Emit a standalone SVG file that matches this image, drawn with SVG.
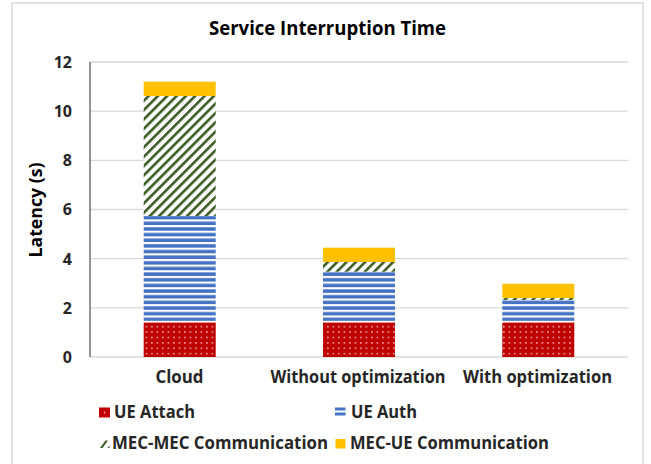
<svg xmlns="http://www.w3.org/2000/svg" width="651" height="464" viewBox="0 0 651 464">
<style>
text{font-family:"Open Sans","Noto Sans","DejaVu Sans",sans-serif;font-weight:700;fill:#000}
.ax{font-size:16px;text-anchor:end;fill:#262626}
.cat{font-size:17.5px;text-anchor:middle;fill:#262626}
.leg{font-size:17.5px;fill:#262626}
.grid{stroke:#d9d9d9;stroke-width:1.3}
</style>
<defs>
<pattern id="pRed" patternUnits="userSpaceOnUse" x="143.7" y="0" width="5.5" height="5.4">
<rect width="5.5" height="5.4" fill="#c00000"/>
<rect x="2" y="2" width="1.4" height="1.4" fill="#f4d6d6"/>
</pattern>
<pattern id="pBlue" patternUnits="userSpaceOnUse" width="8" height="5.65">
<rect width="8" height="5.65" fill="#ffffff"/>
<rect y="1.2" width="8" height="3.5" fill="#4472c4"/>
</pattern>
<pattern id="pGreen" patternUnits="userSpaceOnUse" width="6.6" height="6.6" patternTransform="rotate(45)">
<rect width="6.6" height="6.6" fill="#ffffff"/>
<rect width="2.6" height="6.6" fill="#3b5d25"/>
</pattern>
<pattern id="pRedL" patternUnits="userSpaceOnUse" x="99" y="407.5" width="11" height="10">
<rect width="11" height="10" fill="#c00000"/>
<rect x="4.8" y="4.3" width="1.5" height="1.5" fill="#f4d6d6"/>
</pattern>
</defs>
<rect width="651" height="464" fill="#ffffff"/>
<rect x="12" y="3" width="631" height="480" fill="none" stroke="#d9d9d9" stroke-width="1.5"/>
<text id="title" x="327.5" y="35" style="font-size:19px;text-anchor:middle" textLength="237" lengthAdjust="spacingAndGlyphs">Service Interruption Time</text>
<g id="grid">
<line class="grid" x1="90" y1="62" x2="628" y2="62"/>
<line class="grid" x1="90" y1="111.2" x2="628" y2="111.2"/>
<line class="grid" x1="90" y1="160.3" x2="628" y2="160.3"/>
<line class="grid" x1="90" y1="209.5" x2="628" y2="209.5"/>
<line class="grid" x1="90" y1="258.7" x2="628" y2="258.7"/>
<line class="grid" x1="90" y1="307.8" x2="628" y2="307.8"/>
<line class="grid" x1="90" y1="357" x2="628" y2="357"/>
</g>
<g id="yaxis">
<line x1="90" y1="62" x2="90" y2="357" stroke="#595959" stroke-width="1.3"/>
<text class="ax" x="72" y="67.8">12</text>
<text class="ax" x="72" y="117">10</text>
<text class="ax" x="72" y="166.1">8</text>
<text class="ax" x="72" y="215.3">6</text>
<text class="ax" x="72" y="264.5">4</text>
<text class="ax" x="72" y="313.6">2</text>
<text class="ax" x="72" y="362.8">0</text>
<text x="0" y="0" transform="translate(42,210) rotate(-90)" style="font-size:18px;text-anchor:middle" textLength="95" lengthAdjust="spacingAndGlyphs">Latency (s)</text>
</g>
<g id="bar-cloud">
<rect x="143.7" y="322.6" width="72" height="34.4" fill="url(#pRed)"/>
<rect x="143.7" y="216" width="72" height="104.8" fill="url(#pBlue)"/>
<rect x="143.7" y="96" width="72" height="120" fill="url(#pGreen)"/>
<rect x="143.7" y="81.7" width="72" height="14.3" fill="#ffc000"/>
</g>
<g id="bar-without">
<rect x="323" y="322.6" width="72" height="34.4" fill="url(#pRed)"/>
<rect x="323" y="271.7" width="72" height="49.1" fill="url(#pBlue)"/>
<rect x="323" y="262" width="72" height="9.7" fill="url(#pGreen)"/>
<rect x="323" y="247.7" width="72" height="14.3" fill="#ffc000"/>
</g>
<g id="bar-with">
<rect x="502.3" y="322.6" width="72" height="34.4" fill="url(#pRed)"/>
<rect x="502.3" y="300" width="72" height="20.8" fill="url(#pBlue)"/>
<rect x="502.3" y="298" width="72" height="2" fill="url(#pGreen)"/>
<rect x="502.3" y="283.7" width="72" height="14.3" fill="#ffc000"/>
</g>
<g id="categories">
<text class="cat" x="179.5" y="383" textLength="48" lengthAdjust="spacingAndGlyphs">Cloud</text>
<text class="cat" x="358" y="383" textLength="175" lengthAdjust="spacingAndGlyphs">Without optimization</text>
<text class="cat" x="537.5" y="383" textLength="149" lengthAdjust="spacingAndGlyphs">With optimization</text>
</g>
<g id="legend">
<g id="leg-attach">
<rect x="99" y="407.5" width="11" height="10" fill="url(#pRedL)"/>
<text class="leg" x="114" y="417.5" textLength="81" lengthAdjust="spacingAndGlyphs">UE Attach</text>
</g>
<g id="leg-auth">
<rect x="335" y="407.5" width="10.5" height="3" fill="#4472c4"/>
<rect x="335" y="412.5" width="10.5" height="3" fill="#4472c4"/>
<text class="leg" x="351" y="417.5" textLength="66" lengthAdjust="spacingAndGlyphs">UE Auth</text>
</g>
<g id="leg-mecmec">
<path d="M100,448 L105.5,440.5 L108,440.5 L102.5,448 Z M107.5,448 L109.5,445.5 L109.5,448 Z" fill="#3b5d25"/>
<text class="leg" x="112" y="449" textLength="216" lengthAdjust="spacingAndGlyphs">MEC-MEC Communication</text>
</g>
<g id="leg-mecue">
<rect x="335.5" y="439" width="10" height="9.5" fill="#ffc000"/>
<text class="leg" x="350" y="449" textLength="199" lengthAdjust="spacingAndGlyphs">MEC-UE Communication</text>
</g>
</g>
</svg>
